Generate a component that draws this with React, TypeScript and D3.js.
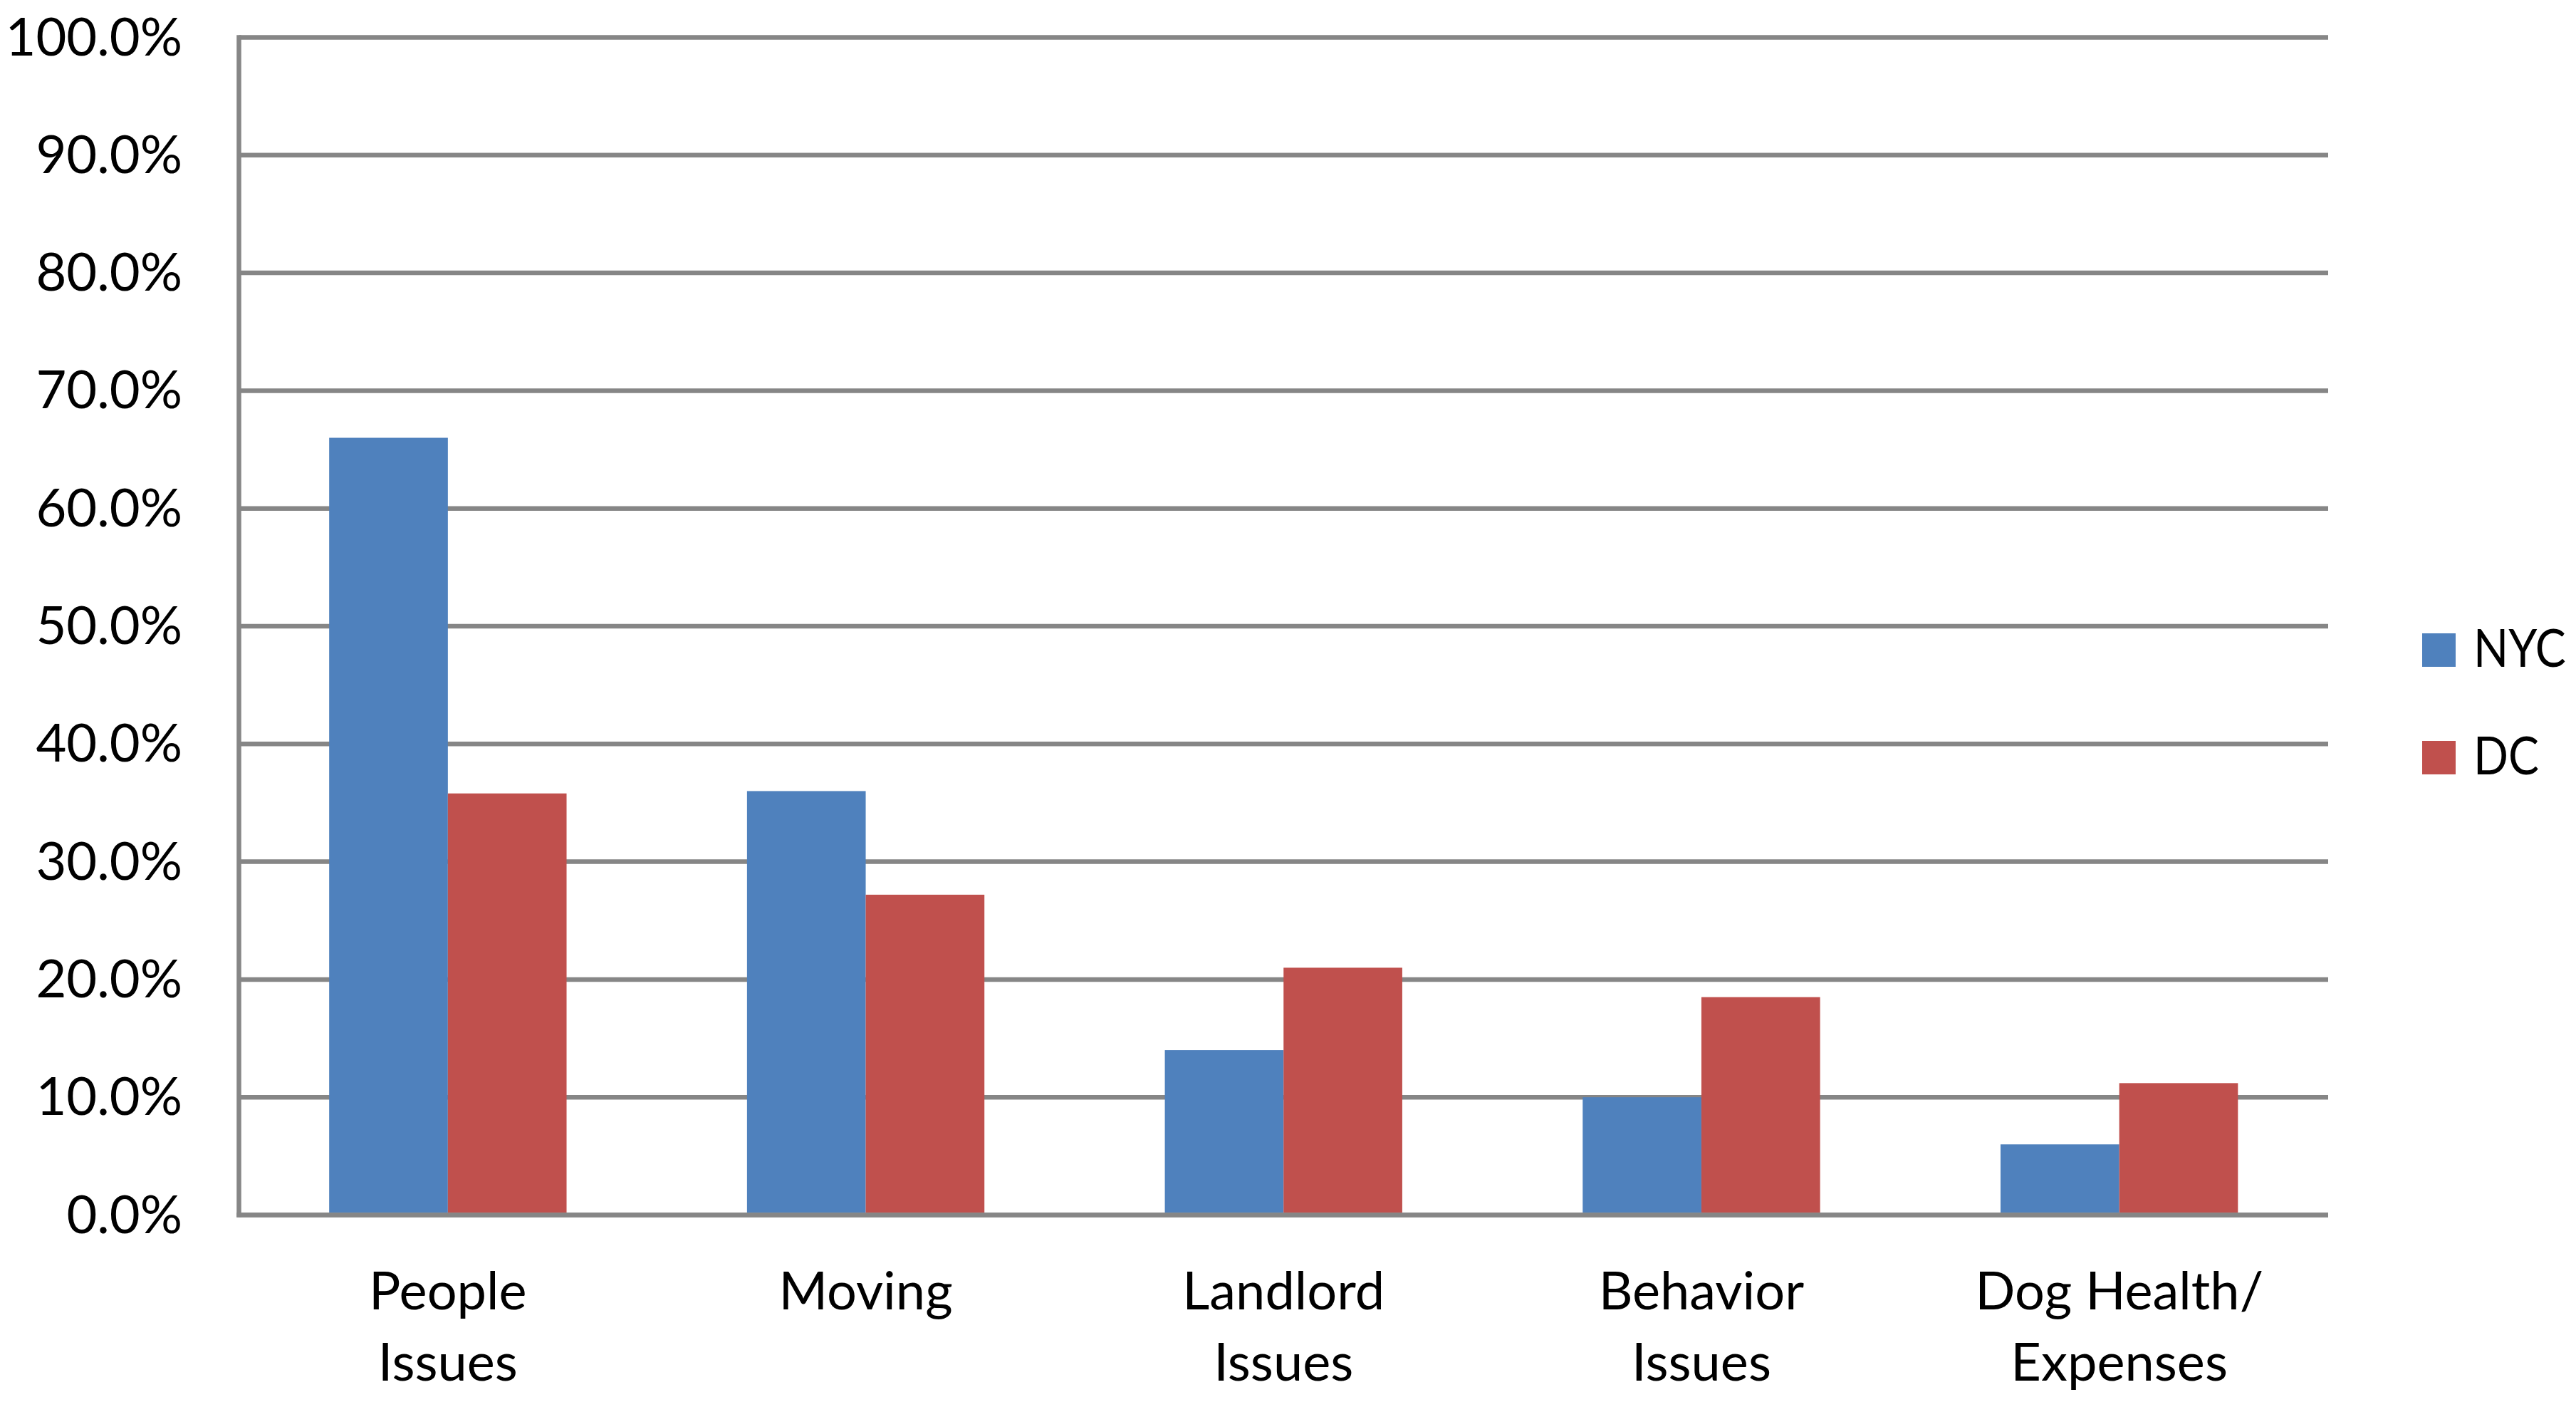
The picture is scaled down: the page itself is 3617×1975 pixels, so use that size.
import * as d3 from 'd3';

const categories = ['People Issues', 'Moving', 'Landlord Issues', 'Behavior Issues', 'Dog Health/ Expenses'];
const categoryLines = [['People', 'Issues'], ['Moving'], ['Landlord', 'Issues'], ['Behavior', 'Issues'], ['Dog Health/', 'Expenses']];
const seriesNames = ['NYC', 'DC'];
const nycValues = [66.0, 36.0, 14.0, 10.0, 6.0];
const dcValues = [35.8, 27.2, 21.0, 18.5, 11.2];
const yTicks = [0, 10, 20, 30, 40, 50, 60, 70, 80, 90, 100];
const seriesColors = ['#4F81BD', '#C0504D'];

const W = 3617;
const H = 1975;
const plot = { left: 335.5, right: 3269, top: 52.5, bottom: 1705.5 };
const FONT = 'Lato, "Open Sans", sans-serif';
const FS = 74;
const GRID = '#868686';
const GW = 6.5;

const App = () => {
  const x0 = d3.scaleBand<string>().domain(categories).range([plot.left, plot.right]);
  const bw = x0.bandwidth() / 3.52;
  const groupW = bw * 2;
  const x1 = d3.scaleBand<string>().domain(seriesNames).range([0, groupW]);
  const y = d3.scaleLinear().domain([0, 100]).range([plot.bottom, plot.top]);
  const values = [nycValues, dcValues];

  return (
    <svg width={W} height={H} style={{ display: 'block', background: '#fff' }}>
      <style>{`body{margin:0}`}</style>
      <g>
        {yTicks.map(t => (
          <line key={t} x1={plot.left} x2={plot.right} y1={y(t)} y2={y(t)} stroke={GRID} strokeWidth={GW} />
        ))}
      </g>
      <g>
        {categories.map((c, i) => {
          const gx = (x0(c) ?? 0) + (x0.bandwidth() - groupW) / 2;
          return seriesNames.map((s, j) => (
            <rect
              key={c + s}
              x={gx + (x1(s) ?? 0)}
              y={y(values[j][i])}
              width={x1.bandwidth()}
              height={y(0) - y(values[j][i]) - GW / 2}
              fill={seriesColors[j]}
            />
          ));
        })}
      </g>
      <line x1={plot.left} x2={plot.left} y1={plot.top - GW / 2} y2={plot.bottom + GW / 2} stroke={GRID} strokeWidth={GW} />
      <line x1={plot.left - GW / 2} x2={plot.right} y1={plot.bottom} y2={plot.bottom} stroke={GRID} strokeWidth={GW} />
      <g fontFamily={FONT} fontSize={FS} fill="#000">
        {yTicks.map(t => (
          <text key={t} x={256} y={y(t) + 25} textAnchor="end">
            {d3.format('.1f')(t) + '%'}
          </text>
        ))}
        {categories.map((c, i) => (
          <text key={c} textAnchor="middle">
            {categoryLines[i].map((ln, k) => (
              <tspan key={k} x={(x0(c) ?? 0) + x0.bandwidth() / 2} y={1838 + k * 100}>
                {ln}
              </tspan>
            ))}
          </text>
        ))}
        {seriesNames.map((s, j) => (
          <g key={s} transform={`translate(3401, ${889 + j * 151})`}>
            <rect width={47} height={47} fill={seriesColors[j]} />
            {/* Lato runs wider than the original's font, so squeeze the label a little */}
            <text transform="translate(72, 47) scale(0.87, 1)">{s}</text>
          </g>
        ))}
      </g>
    </svg>
  );
};

export default App;
